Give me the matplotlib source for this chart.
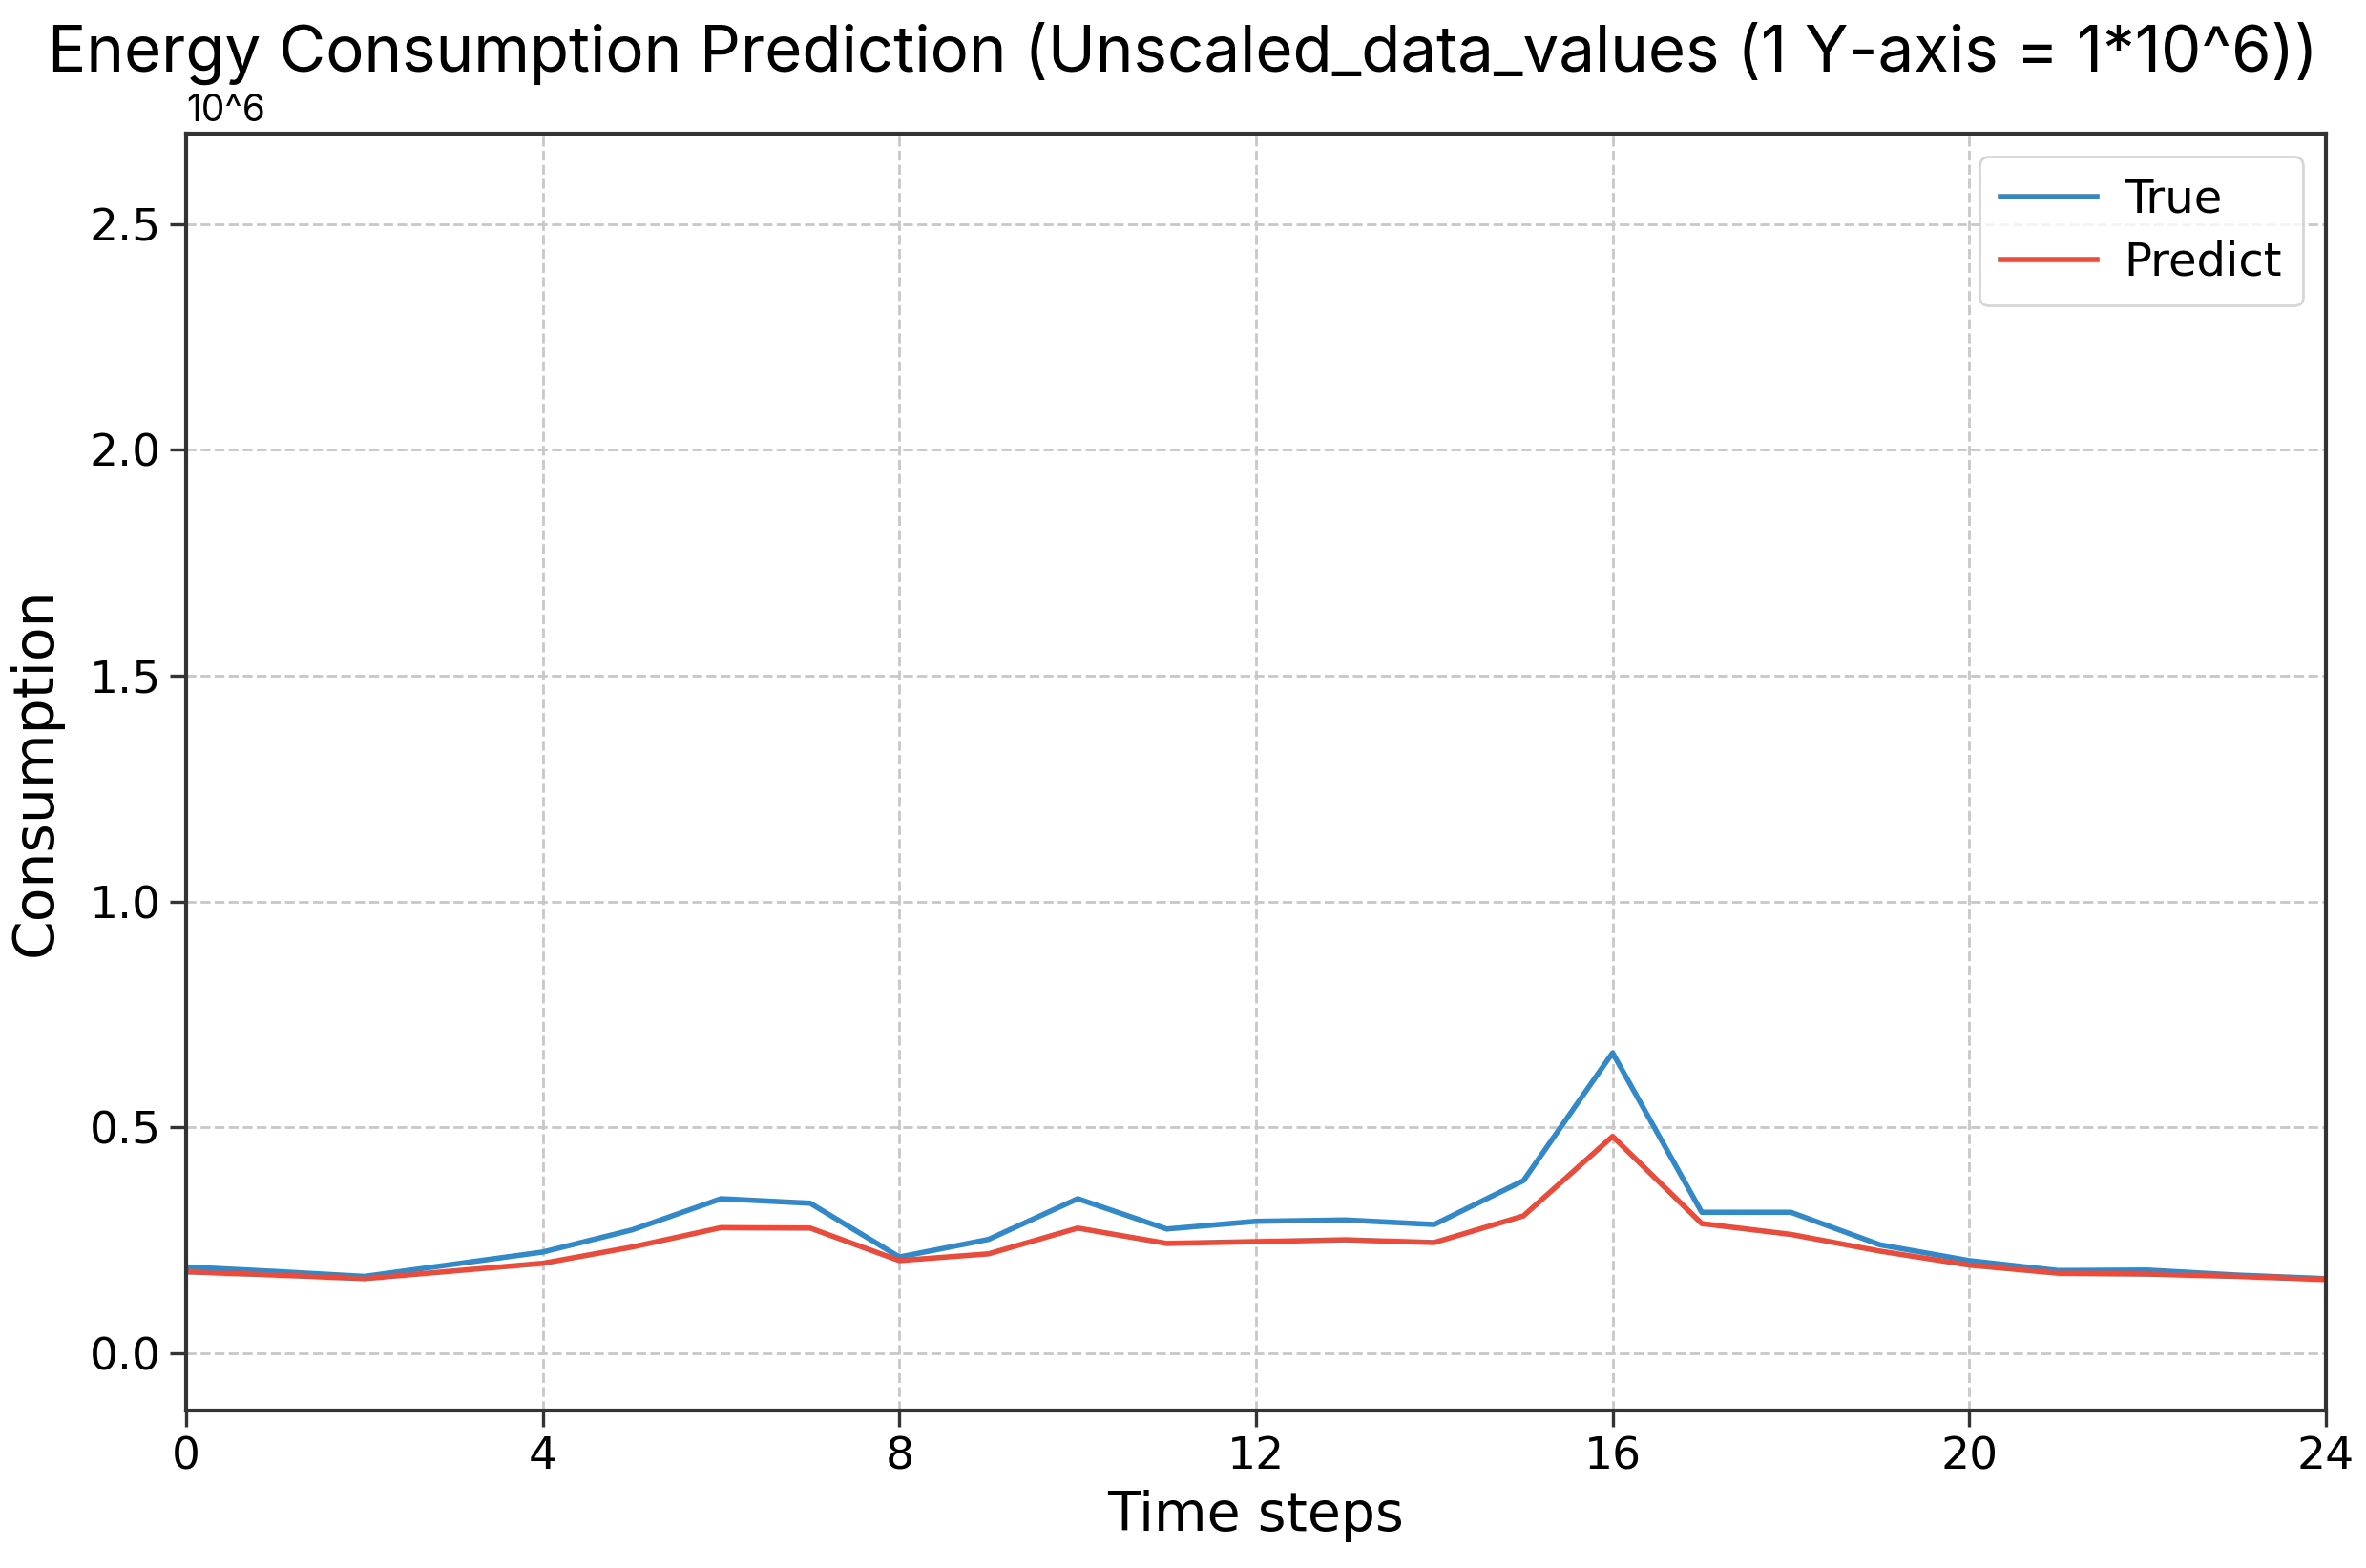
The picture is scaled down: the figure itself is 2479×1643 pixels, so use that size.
import matplotlib
matplotlib.use("Agg")
import matplotlib.pyplot as plt
import numpy as np

time_steps = list(range(25))
true_vals = [0.191, 0.181, 0.170, 0.197, 0.224, 0.273, 0.342, 0.332, 0.213, 0.252,
             0.342, 0.275, 0.292, 0.295, 0.285, 0.382, 0.665, 0.312, 0.312, 0.240,
             0.205, 0.183, 0.184, 0.173, 0.165]
pred_vals = [0.180, 0.173, 0.165, 0.182, 0.199, 0.235, 0.278, 0.277, 0.205, 0.220,
             0.277, 0.243, 0.247, 0.251, 0.245, 0.304, 0.480, 0.287, 0.263, 0.226,
             0.195, 0.177, 0.175, 0.170, 0.163]
x_ticks = [0, 4, 8, 12, 16, 20, 24]
y_ticks = [0.0, 0.5, 1.0, 1.5, 2.0, 2.5]

plt.rcParams['font.family'] = ['DejaVu Sans']

fig = plt.figure(figsize=(12.395, 8.215), dpi=200)
ax = fig.add_axes([0.0787, 0.1004, 0.9043, 0.8144])

ax.plot(time_steps, true_vals, color='#3388c8', lw=2.0, label='True')
ax.plot(time_steps, pred_vals, color='#e84c3d', lw=2.0, label='Predict')

ax.set_xlim(0, 24)
ax.set_ylim(-0.127, 2.70)
ax.set_xticks(x_ticks)
ax.set_yticks(y_ticks)
ax.set_yticklabels([f"{v:.1f}" for v in y_ticks])
ax.tick_params(labelsize=17, length=6, width=1.2, color='#333333')
ax.grid(True, ls='--', color='#c8c8c8', lw=1.0)
for s in ax.spines.values():
    s.set_linewidth(1.5)
    s.set_color('#333333')

ax.set_xlabel('Time steps', fontsize=20.5, labelpad=4)
ax.set_ylabel('Consumption', fontsize=21, labelpad=10)

fig.text(0.5, 0.966, 'Energy Consumption Prediction (Unscaled_data_values (1 Y-axis = 1*10^6))',
         ha='center', va='center', fontsize=24.2, family=['Inter', 'DejaVu Sans'])
ax.text(0.0, 1.004, '10^6', transform=ax.transAxes, ha='left', va='bottom',
        fontsize=14, family=['Inter', 'DejaVu Sans'])

leg = ax.legend(loc='upper right', fontsize=17.3, frameon=True, fancybox=True,
                handlelength=2.1, borderpad=0.45, labelspacing=0.4, handletextpad=0.6)
leg.get_frame().set_edgecolor('#cccccc')

fig.savefig('out.png', dpi=200)
